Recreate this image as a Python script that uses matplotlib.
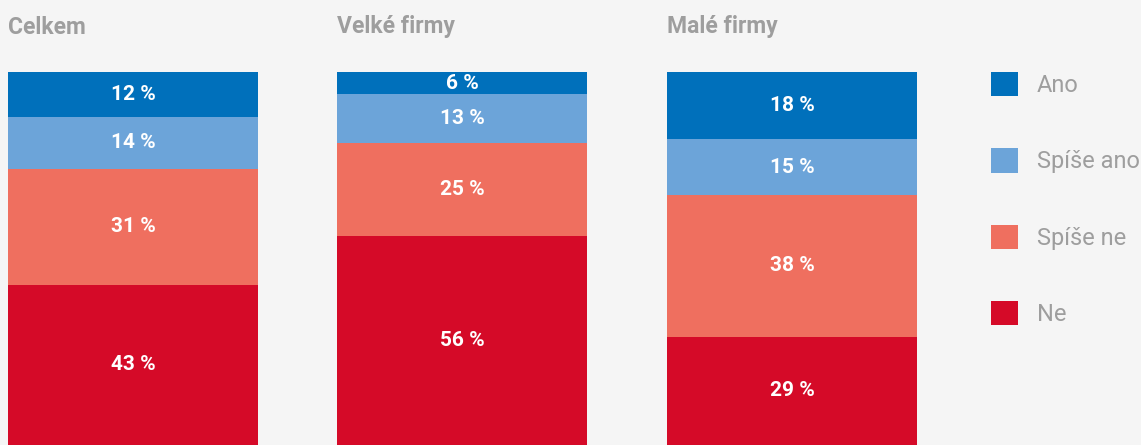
import matplotlib.pyplot as plt
from matplotlib.patches import Patch

# data
panels = ["Celkem", "Velké firmy", "Malé firmy"]
categories = ["Ano", "Spíše ano", "Spíše ne", "Ne"]
ano = [12, 6, 18]
spise_ano = [14, 13, 15]
spise_ne = [31, 25, 38]
ne = [43, 56, 29]
colors = ["#0070bb", "#6ca4d9", "#ef6f5f", "#d50a28"]

plt.rcParams['font.family'] = ['Roboto', 'DejaVu Sans']

W, H = 1141, 445
fig = plt.figure(figsize=(W / 100, H / 100), dpi=100, facecolor="#f5f5f5")

lefts = [8, 337, 667]
bar_w = 250
top, bottom = 72, 445

for i, name in enumerate(panels):
    ax = fig.add_axes([lefts[i] / W, (H - bottom) / H, bar_w / W, (bottom - top) / H])
    ax.set_facecolor("#f5f5f5")
    # stack from bottom: Ne, Spíše ne, Spíše ano, Ano
    stack = [(ne[i], colors[3]), (spise_ne[i], colors[2]),
             (spise_ano[i], colors[1]), (ano[i], colors[0])]
    base = 0
    for val, c in stack:
        ax.bar(0, val, bottom=base, width=1, color=c, linewidth=0)
        ax.text(0, base + val / 2, f"{val} %", ha="center", va="center",
                color="white", fontsize=15, fontweight="bold")
        base += val
    ax.set_xlim(-0.5, 0.5)
    ax.set_ylim(0, 100)
    ax.axis("off")
    fig.text(lefts[i] / W, 1 - 27 / H, name, ha="left", va="center",
             fontsize=16.5, fontweight="bold", color="#9e9e9e")

handles = [Patch(facecolor=c, edgecolor="none") for c in colors]
fig.legend(handles, categories, loc="upper left",
           bbox_to_anchor=(991 / W, 1 - 72 / H), frameon=False,
           borderpad=0, borderaxespad=0,
           fontsize=17, labelcolor="#9e9e9e", handlelength=1.15,
           handleheight=1.2, handletextpad=0.8, labelspacing=2.17)

fig.savefig("out.png", dpi=100, facecolor=fig.get_facecolor())
